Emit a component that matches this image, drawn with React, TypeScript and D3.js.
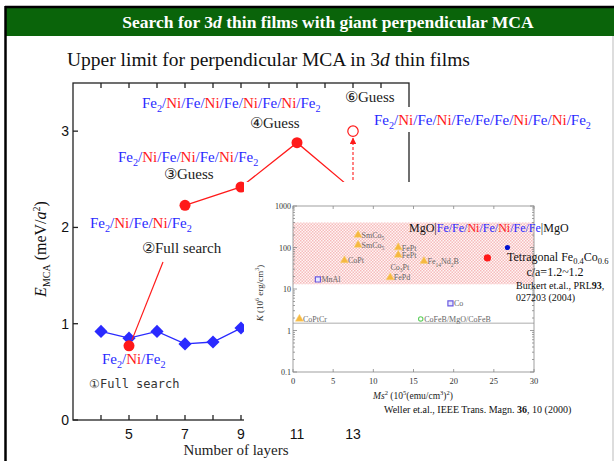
import React from "react";
import * as d3 from "d3";

// Main panel: E_MCA vs number of layers
const diamondLayers = [4, 5, 6, 7, 8, 9];
const diamondEmca = [0.92, 0.85, 0.92, 0.79, 0.81, 0.955];
const fullSearchLayer = 5;
const fullSearchEmca = 0.77;
const guessLayers = [7, 9, 11, 13];
const guessEmca = [2.23, 2.42, 2.88, 2.39];
const predictedLayer = 13;
const predictedEmca = 3.0;
const yTicks = [0, 1, 2, 3];
const xTickLabels = [5, 7, 9, 11, 13];

// Inset: K vs Ms^2 (Weller et al.)
const insetNames = ["SmCo5", "SmCo5", "CoPt", "MnAl", "FePt", "FePt", "Co3Pt", "FePd", "Fe14Nd2B", "Co", "CoPtCr", "CoFeB/MgO/CoFeB"];
const insetMs2 = [8.1, 8.1, 6.4, 3.1, 13.1, 13.1, 12.0, 12.1, 16.3, 19.6, 0.8, 15.9];
const insetK = [200, 115, 49, 17, 100, 66, 21, 19, 47, 4.5, 1.9, 1.9];
const insetKind = ["tri", "tri", "tri", "sq", "tri", "tri", "tri", "tri", "tri", "sq", "tri", "circ"];
const multilayerMs2 = 24.2;
const multilayerK = 56;
const fecoMs2 = 26.7;
const fecoK = 100;
const hatchK = [13, 400];
const thresholdK = 1.5;
const insetXTicks = [0, 5, 10, 15, 20, 25, 30];
const insetYTicks = [0.1, 1, 10, 100, 1000];

const SERIF = "'Liberation Serif', 'Times New Roman', serif";
const SANS = "'Liberation Sans', Arial, sans-serif";
const BLUE = "#2a2aff";
const RED = "#ff1a1a";

function Formula({ x, y, text, size, anchor = "start" }: any) {
  const parts = text.split(/([\/|])/).filter((s: string) => s !== "");
  const sub = size * 0.28;
  const spans: any[] = [];
  let shifted = false;
  parts.forEach((p: string, i: number) => {
    let color = BLUE;
    if (p === "Ni") color = RED;
    else if (p === "MgO" || p === "|") color = "#111";
    const m = p.match(/^([A-Za-z]+)(\d+)$/);
    if (m) {
      spans.push(<tspan key={i + "a"} fill={color} dy={shifted ? -sub : 0}>{m[1]}</tspan>);
      spans.push(<tspan key={i + "b"} fill={color} fontSize={size * 0.68} dy={sub}>{m[2]}</tspan>);
      shifted = true;
    } else {
      spans.push(<tspan key={i} fill={color} dy={shifted ? -sub : 0}>{p}</tspan>);
      shifted = false;
    }
  });
  return (
    <text x={x} y={y} fontSize={size} fontFamily={SERIF} textAnchor={anchor}>{spans}</text>
  );
}

// chemical name with numeric subscripts (e.g. Fe14Nd2B)
function Chem({ x, y, text, size, fill }: any) {
  const parts = text.match(/[A-Za-z\/]+|\d+/g) || [];
  const sub = size * 0.3;
  let shifted = false;
  return (
    <text x={x} y={y} fontSize={size} fontFamily={SERIF} fill={fill}>
      {parts.map((p: string, i: number) => {
        if (/^\d+$/.test(p)) {
          shifted = true;
          return <tspan key={i} fontSize={size * 0.7} dy={sub}>{p}</tspan>;
        }
        const dy = shifted ? -sub : 0;
        shifted = false;
        return <tspan key={i} dy={dy}>{p}</tspan>;
      })}
    </text>
  );
}

export default function App() {
  const W = 614, H = 461;
  const x = d3.scaleLinear().domain([3, 15]).range([73, 409]);
  const y = d3.scaleLinear().domain([0, 3.5]).range([420, 83]);

  const diamondPath = d3.line<[number, number]>()(diamondLayers.map((l, i) => [x(l), y(diamondEmca[i])]));
  const guessPath = d3.line<[number, number]>()(guessLayers.map((l, i) => [x(l), y(guessEmca[i])]));

  const diamond = d3.symbol(d3.symbolDiamond2, 110)();
  const [x0, x1] = x.range();
  const [yb, yt] = y.range();

  // inset geometry
  const box = { left: 244, top: 182, right: 608, bottom: 422 };
  const ix = d3.scaleLinear().domain([0, 30]).range([293, 534]);
  const iy = d3.scaleLog().domain([0.1, 1000]).range([372, 206]);
  const [ix0, ix1] = ix.range();
  const [iyb, iyt] = iy.range();
  const minorK: number[] = [];
  [0.1, 1, 10, 100].forEach((dec) => {
    for (let k = 2; k <= 9; k++) minorK.push(dec * k);
  });
  const tri = d3.symbol(d3.symbolTriangle, 28)();
  const sq = d3.symbol(d3.symbolSquare, 26)();

  const fsLabel = { x: 163, y: 262 };
  const arrowTop = y(predictedEmca) + 7;

  return (
    <svg width={W} height={H} viewBox={`0 0 ${W} ${H}`} style={{ position: "absolute", left: 0, top: 0 }}>
      <defs>
        <pattern id="hatch" width="3" height="3" patternUnits="userSpaceOnUse">
          <rect width="3" height="3" fill="#fff5f5" />
          <rect width="1.5" height="1.5" fill="#f6bcbc" />
          <rect x="1.5" y="1.5" width="1.5" height="1.5" fill="#f6bcbc" />
        </pattern>
        <marker id="arrowHead" viewBox="0 0 10 10" refX="9" refY="5" markerWidth="6" markerHeight="6" orient="auto">
          <path d="M0,0 L10,5 L0,10 z" fill={RED} />
        </marker>
      </defs>
      <rect width={W} height={H} fill="#fff" />

      {/* slide frame and title bar */}
      <rect x={6} y={8} width={W - 6} height={28} fill="#0a640a" />
      <line x1={5} y1={7} x2={W} y2={7} stroke="#000" strokeWidth={2.5} />
      <line x1={5.5} y1={6} x2={5.5} y2={H} stroke="#000" strokeWidth={2.5} />
      <line x1={613} y1={36} x2={613} y2={H} stroke="#bbb" strokeWidth={1} />
      <text x={328} y={28} textAnchor="middle" fontFamily={SERIF} fontWeight="bold" fontSize={17.5} fill="#fff">
        Search for 3<tspan fontStyle="italic">d</tspan> thin films with giant perpendicular MCA
      </text>
      <text x={67} y={66} fontFamily={SERIF} fontSize={19.5} fill="#111">
        Upper limit for perpendicular MCA in 3<tspan fontStyle="italic">d</tspan> thin films
      </text>

      {/* main axes */}
      <g stroke="#222" strokeWidth={1.3} fill="none">
        <rect x={x0} y={yt} width={x1 - x0} height={yb - yt} />
        {d3.range(4, 15).map((t) => (
          <g key={t}>
            <line x1={x(t)} x2={x(t)} y1={yb} y2={yb - 5} />
            <line x1={x(t)} x2={x(t)} y1={yt} y2={yt + 5} />
          </g>
        ))}
        {yTicks.map((t) => (
          <g key={t}>
            <line x1={x0} x2={x0 + 5} y1={y(t)} y2={y(t)} />
            <line x1={x1} x2={x1 - 5} y1={y(t)} y2={y(t)} />
          </g>
        ))}
      </g>
      {yTicks.map((t) => (
        <text key={t} x={69} y={y(t) + 5} textAnchor="end" fontFamily={SANS} fontSize={14} fill="#111">{t}</text>
      ))}
      {xTickLabels.map((t) => (
        <text key={t} x={x(t)} y={439} textAnchor="middle" fontFamily={SANS} fontSize={14} fill="#111">{t}</text>
      ))}
      <text transform="translate(46,249) rotate(-90)" textAnchor="middle" fontFamily={SERIF} fontSize={16} fill="#111">
        <tspan fontStyle="italic">E</tspan>
        <tspan fontSize={10} dy={4}>MCA</tspan>
        <tspan dy={-4}> (meV/</tspan>
        <tspan fontStyle="italic">a</tspan>
        <tspan fontSize={10} dy={-6}>2</tspan>
        <tspan dy={6}>)</tspan>
      </text>
      <text x={236} y={455} textAnchor="middle" fontFamily={SERIF} fontSize={15} fill="#222">Number of layers</text>

      {/* series */}
      <path d={diamondPath || ""} fill="none" stroke={BLUE} strokeWidth={1.3} />
      {diamondLayers.map((l, i) => (
        <path key={l} d={diamond || ""} transform={`translate(${x(l)},${y(diamondEmca[i])})`} fill={BLUE} />
      ))}
      <path d={guessPath || ""} fill="none" stroke={RED} strokeWidth={1.3} />
      <line x1={x(fullSearchLayer) + 3} y1={y(fullSearchEmca) - 6} x2={fsLabel.x} y2={fsLabel.y} stroke={RED} strokeWidth={1.2} />
      <line x1={x(predictedLayer)} y1={y(guessEmca[guessEmca.length - 1])} x2={x(predictedLayer)} y2={arrowTop}
        stroke={RED} strokeWidth={1.1} strokeDasharray="3,2" markerEnd="url(#arrowHead)" />
      <circle cx={x(fullSearchLayer)} cy={y(fullSearchEmca)} r={5.5} fill={RED} />
      {guessLayers.slice(0, 3).map((l, i) => (
        <circle key={l} cx={x(l)} cy={y(guessEmca[i])} r={5.5} fill={RED} />
      ))}
      <circle cx={x(predictedLayer)} cy={y(predictedEmca)} r={5.2} fill="#fff" stroke={RED} strokeWidth={1.2} />

      {/* structure labels */}
      <Formula x={102} y={364} text="Fe2/Ni/Fe2" size={15} />
      <text x={89} y={388} fontFamily="'DejaVu Sans Mono', monospace" fontSize={12} fill="#333">①Full search</text>
      <Formula x={90} y={228} text="Fe2/Ni/Fe/Ni/Fe2" size={15} />
      <text x={142} y={253} fontFamily={SERIF} fontSize={15} fill="#222">②Full search</text>
      <Formula x={118} y={162} text="Fe2/Ni/Fe/Ni/Fe/Ni/Fe2" size={15} />
      <text x={164} y={179} fontFamily={SERIF} fontSize={15} fill="#222">③Guess</text>
      <Formula x={142} y={108} text="Fe2/Ni/Fe/Ni/Fe/Ni/Fe/Ni/Fe2" size={15} />
      <text x={250} y={128} fontFamily={SERIF} fontSize={15} fill="#222">④Guess</text>
      <text x={345} y={102} fontFamily={SERIF} fontSize={15} fill="#222">⑥Guess</text>
      <rect x={372} y={107} width={226} height={25} fill="#fff" />
      <Formula x={374} y={125} text="Fe2/Ni/Fe/Ni/Fe/Fe/Fe/Ni/Fe/Ni/Fe2" size={15} />

      {/* inset */}
      <rect x={box.left} y={box.top} width={box.right - box.left} height={box.bottom - box.top} fill="#fff" />
      <rect x={ix0} y={iy(hatchK[1])} width={ix1 - ix0} height={iy(hatchK[0]) - iy(hatchK[1])} fill="url(#hatch)" />
      <line x1={ix0} x2={ix1} y1={iy(thresholdK)} y2={iy(thresholdK)} stroke="#c8c8c8" strokeWidth={1.5} />
      <g stroke="#888" strokeWidth={0.8} fill="none">
        <rect x={ix0} y={iyt} width={ix1 - ix0} height={iyb - iyt} />
        {insetXTicks.map((t) => (
          <g key={t}>
            <line x1={ix(t)} x2={ix(t)} y1={iyb} y2={iyb - 3} />
            <line x1={ix(t)} x2={ix(t)} y1={iyt} y2={iyt + 3} />
          </g>
        ))}
        {insetYTicks.map((t) => (
          <g key={t}>
            <line x1={ix0} x2={ix0 + 4} y1={iy(t)} y2={iy(t)} />
            <line x1={ix1} x2={ix1 - 4} y1={iy(t)} y2={iy(t)} />
          </g>
        ))}
        {minorK.map((t) => (
          <g key={t}>
            <line x1={ix0} x2={ix0 + 2} y1={iy(t)} y2={iy(t)} />
            <line x1={ix1} x2={ix1 - 2} y1={iy(t)} y2={iy(t)} />
          </g>
        ))}
      </g>
      {insetYTicks.map((t) => (
        <text key={t} x={ix0 - 2} y={iy(t) + 3} textAnchor="end" fontFamily={SERIF} fontSize={8} fill="#333">{t}</text>
      ))}
      {insetXTicks.map((t) => (
        <text key={t} x={ix(t)} y={384} textAnchor="middle" fontFamily={SERIF} fontSize={8.5} fill="#333">{t}</text>
      ))}
      <text x={413} y={399} textAnchor="middle" fontFamily={SERIF} fontSize={9.5} fill="#222">
        <tspan fontStyle="italic">Ms</tspan>
        <tspan fontSize={6.5} dy={-4}>2</tspan>
        <tspan dy={4}> (10</tspan>
        <tspan fontSize={6.5} dy={-4}>5</tspan>
        <tspan dy={4}>(emu/cm</tspan>
        <tspan fontSize={6.5} dy={-4}>3</tspan>
        <tspan dy={4}>)</tspan>
        <tspan fontSize={6.5} dy={-4}>2</tspan>
        <tspan dy={4}>)</tspan>
      </text>
      <text transform="translate(263,293) rotate(-90)" textAnchor="middle" fontFamily={SERIF} fontSize={9} fill="#333">
        <tspan fontStyle="italic">K</tspan>
        <tspan> (10</tspan>
        <tspan fontSize={6} dy={-4}>6</tspan>
        <tspan dy={4}> erg/cm</tspan>
        <tspan fontSize={6} dy={-4}>3</tspan>
        <tspan dy={4}>)</tspan>
      </text>

      {insetNames.map((n, i) => {
        const px = ix(insetMs2[i]);
        const py = iy(insetK[i]);
        const kind = insetKind[i];
        const above = n === "Co3Pt";
        return (
          <g key={i}>
            {kind === "tri" && !above && <path d={tri || ""} transform={`translate(${px},${py})`} fill="#f6b940" stroke="#f8d27a" strokeWidth={0.5} />}
            {kind === "sq" && <path d={sq || ""} transform={`translate(${px},${py})`} fill="#e8e8ff" stroke="#6a5ae0" strokeWidth={1.2} />}
            {kind === "circ" && <circle cx={px} cy={py} r={2.2} fill="#fff" stroke="#5fcf5f" strokeWidth={1.1} />}
            <Chem x={above ? px + 1 : px + 3.5} y={above ? py - 6 : py + 3} text={n} size={8} fill="#666" />
          </g>
        );
      })}
      <circle cx={ix(multilayerMs2)} cy={iy(multilayerK)} r={3.6} fill={RED} />
      <circle cx={ix(fecoMs2)} cy={iy(fecoK)} r={2.6} fill="#0010d0" />

      <Formula x={409} y={232} text="MgO|Fe/Fe/Ni/Fe/Ni/Fe/Fe|MgO" size={12} />
      <text x={507} y={261} fontFamily={SERIF} fontSize={12} fill="#111">
        Tetragonal Fe<tspan fontSize={8.5} dy={3}>0.4</tspan><tspan dy={-3}>Co</tspan><tspan fontSize={8.5} dy={3}>0.6</tspan>
      </text>
      <text x={555} y={276} textAnchor="middle" fontFamily={SERIF} fontSize={12} fill="#111">c/a=1.2~1.2</text>
      <text x={516} y={289} fontFamily={SERIF} fontSize={10} fill="#111">
        Burkert et.al., PRL<tspan fontWeight="bold">93</tspan>,
      </text>
      <text x={516} y={301} fontFamily={SERIF} fontSize={10} fill="#111">027203 (2004)</text>
      <text x={384} y={413} fontFamily={SERIF} fontSize={10} fill="#111">
        Weller et.al., IEEE Trans. Magn. <tspan fontWeight="bold">36</tspan>, 10 (2000)
      </text>
    </svg>
  );
}
